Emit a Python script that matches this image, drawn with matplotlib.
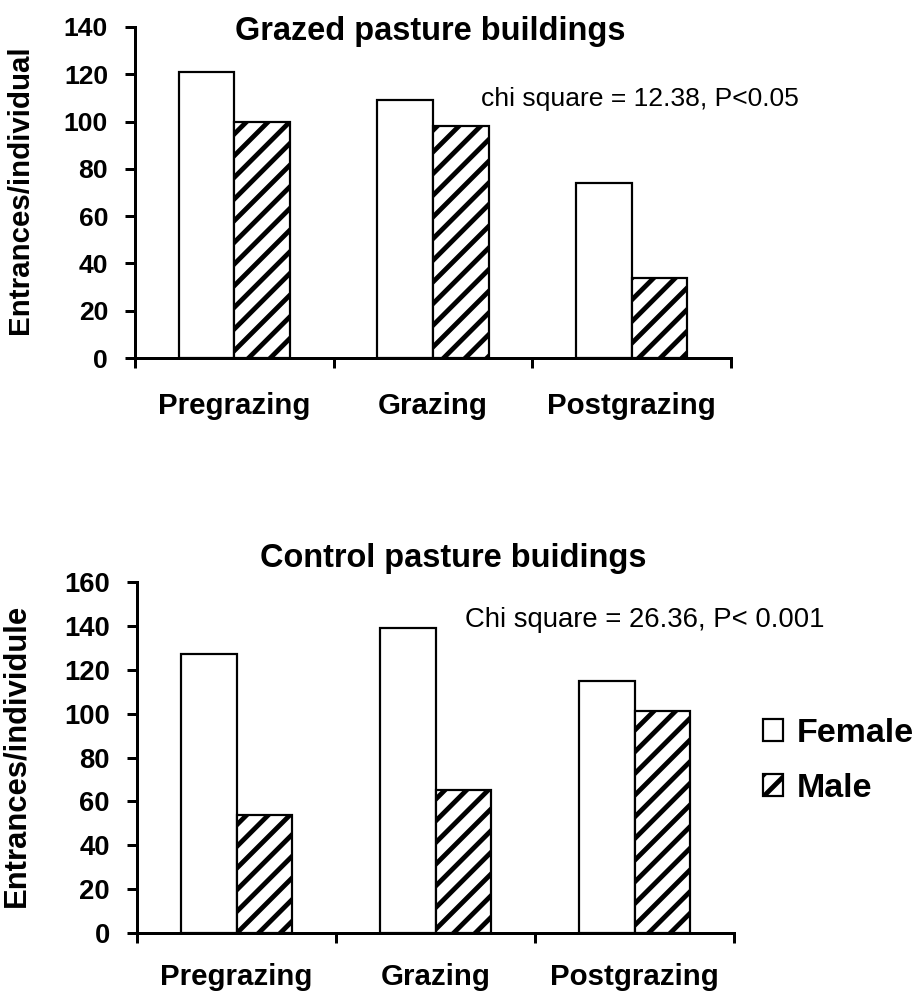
import matplotlib
matplotlib.use("Agg")
import matplotlib.pyplot as plt
import numpy as np

DPI = 130
W, H = 919, 995

periods = ["Pregrazing", "Grazing", "Postgrazing"]
grazed_female = [121, 109, 74]
grazed_male = [100, 98, 34]
control_female = [127, 139, 115]
control_male = [54, 65, 101]


def px(v):
    """Pixels to points at the chosen dpi."""
    return v * 72 / DPI


plt.rcParams["font.family"] = ["Liberation Sans", "DejaVu Sans"]
plt.rcParams["hatch.linewidth"] = px(4.8)
plt.rcParams["hatch.color"] = "black"

fig = plt.figure(figsize=(W / DPI, H / DPI), dpi=DPI)


def panel(box, female, male, ymax, ystep, tick_fs, ylabel, ylabel_fs, ylabel_xy, cat_pad):
    left, top, right, bottom = box
    ax = fig.add_axes([left / W, 1 - bottom / H, (right - left) / W, (bottom - top) / H])
    x = np.arange(len(periods)) + 0.5
    w = 0.28
    bf = ax.bar(x - w / 2, female, w, color="white", edgecolor="black",
                linewidth=px(2.2), label="Female")
    bm = ax.bar(x + w / 2, male, w, color="white", edgecolor="black",
                linewidth=px(2.2), hatch="//", label="Male")
    ax.set_xlim(0, len(periods))
    ax.set_ylim(0, ymax)
    for s in ("top", "right"):
        ax.spines[s].set_visible(False)
    for s in ("left", "bottom"):
        ax.spines[s].set_linewidth(px(3))
    ax.set_yticks(np.arange(0, ymax + 1, ystep))
    ax.tick_params(axis="y", direction="out", length=px(10), width=px(3),
                   pad=px(17), labelsize=tick_fs)
    for t in ax.get_yticklabels():
        t.set_fontweight("bold")
    ax.set_xticks(np.arange(len(periods) + 1))
    ax.set_xticklabels([])
    ax.set_xticks(x, minor=True)
    ax.set_xticklabels(periods, minor=True, fontweight="bold", fontsize=px(29.5))
    ax.tick_params(axis="x", which="major", direction="out", length=px(10), width=px(3))
    ax.tick_params(axis="x", which="minor", length=0, pad=px(cat_pad))
    ax.set_ylabel(ylabel, fontweight="bold", fontsize=ylabel_fs)
    ax.yaxis.set_label_coords(ylabel_xy[0] / W, 1 - ylabel_xy[1] / H, transform=fig.transFigure)
    return ax, bf, bm


# top panel: grazed pasture
ax1, _, _ = panel((135, 27, 731, 358), grazed_female, grazed_male, 140, 20,
                  px(26.5), "Entrances/individual", px(29.5), (34, 190), 34)
fig.text(430 / W, 1 - 40 / H, "Grazed pasture buildings", ha="center", va="baseline",
         fontweight="bold", fontsize=px(32.5))
fig.text(481 / W, 1 - 106 / H, "chi square = 12.38, P<0.05", ha="left", va="baseline",
         fontsize=px(26.5))

# bottom panel: control pasture
ax2, bf, bm = panel((137, 582, 734, 933), control_female, control_male, 160, 20,
                    px(27.5), "Entrances/individule", px(31), (31, 755), 30)
fig.text(453 / W, 1 - 567 / H, "Control pasture buidings", ha="center", va="baseline",
         fontweight="bold", fontsize=px(32.5))
fig.text(465 / W, 1 - 627 / H, "Chi square = 26.36, P< 0.001", ha="left", va="baseline",
         fontsize=px(27.5))

ax2.legend(handles=[bf, bm], loc="center left", bbox_to_anchor=(763 / W, 1 - 761 / H),
           bbox_transform=fig.transFigure, frameon=False,
           prop=dict(weight="bold", size=px(34)), handlelength=0.59, handleheight=0.59,
           handletextpad=0.41, labelspacing=0.7, borderpad=0, borderaxespad=0)

fig.savefig("out.png", dpi=DPI)
